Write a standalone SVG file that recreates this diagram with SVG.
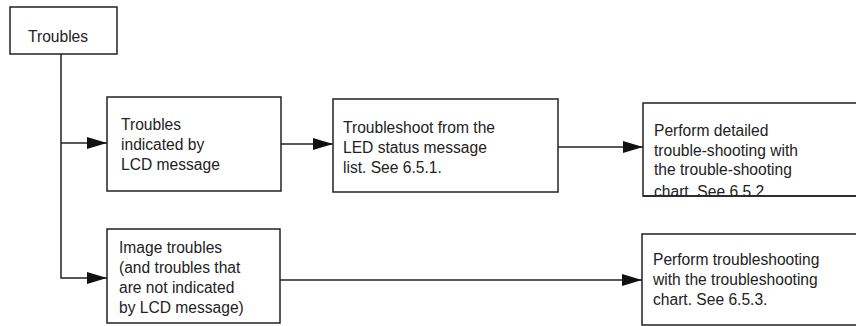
<svg xmlns="http://www.w3.org/2000/svg" width="856" height="326" viewBox="0 0 856 326">
<style>
.box{fill:#fff;stroke:#222;stroke-width:1.5}
.t{font-family:"Liberation Sans",Arial,sans-serif;font-size:15.6px;fill:#222}
.c{fill:none;stroke:#222;stroke-width:1.5}
</style>
<defs>
<marker id="ah" viewBox="0 0 20 12" refX="20" refY="6" markerWidth="20" markerHeight="12" markerUnits="userSpaceOnUse" orient="auto">
<path d="M0,0 L20,6 L0,12 Z" fill="#111"/>
</marker>
<clipPath id="clip4"><rect x="643" y="103" width="220" height="93"/></clipPath>
</defs>
<rect width="856" height="326" fill="#fff"/>
<g id="connectors">
<path class="c" d="M61,54 V278 H107" marker-end="url(#ah)"/>
<path class="c" d="M61,143 H107" marker-end="url(#ah)"/>
<path class="c" d="M281,144 H333" marker-end="url(#ah)"/>
<path class="c" d="M558,147 H643" marker-end="url(#ah)"/>
<path class="c" d="M280,280 H642" marker-end="url(#ah)"/>
</g>
<g id="n1">
<rect class="box" x="10" y="7" width="107" height="47"/>
<text class="t" x="28" y="42">Troubles</text>
</g>
<g id="n2">
<rect class="box" x="107" y="97" width="174" height="94"/>
<text class="t" x="121" y="130">Troubles</text>
<text class="t" x="121" y="150">indicated by</text>
<text class="t" x="121" y="170">LCD message</text>
</g>
<g id="n3">
<rect class="box" x="333" y="99" width="225" height="93"/>
<text class="t" x="343" y="133">Troubleshoot from the</text>
<text class="t" x="343" y="153">LED status message</text>
<text class="t" x="343" y="173">list. See 6.5.1.</text>
</g>
<g id="n4">
<rect class="box" x="643" y="103" width="220" height="93"/>
<g clip-path="url(#clip4)">
<text class="t" x="654" y="136">Perform detailed</text>
<text class="t" x="654" y="156">trouble-shooting with</text>
<text class="t" x="654" y="175">the trouble-shooting</text>
<text class="t" x="654" y="197">chart.  See 6.5.2</text>
</g>
<path class="c" d="M643,196 H856"/>
</g>
<g id="n5">
<rect class="box" x="107" y="229" width="173" height="94"/>
<text class="t" x="119" y="253">Image troubles</text>
<text class="t" x="119" y="273">(and troubles that</text>
<text class="t" x="119" y="293">are not indicated</text>
<text class="t" x="119" y="313">by LCD message)</text>
</g>
<g id="n6">
<rect class="box" x="642" y="234" width="220" height="91"/>
<text class="t" x="653" y="265">Perform troubleshooting</text>
<text class="t" x="653" y="285">with the troubleshooting</text>
<text class="t" x="653" y="305">chart.  See 6.5.3.</text>
</g>
</svg>
